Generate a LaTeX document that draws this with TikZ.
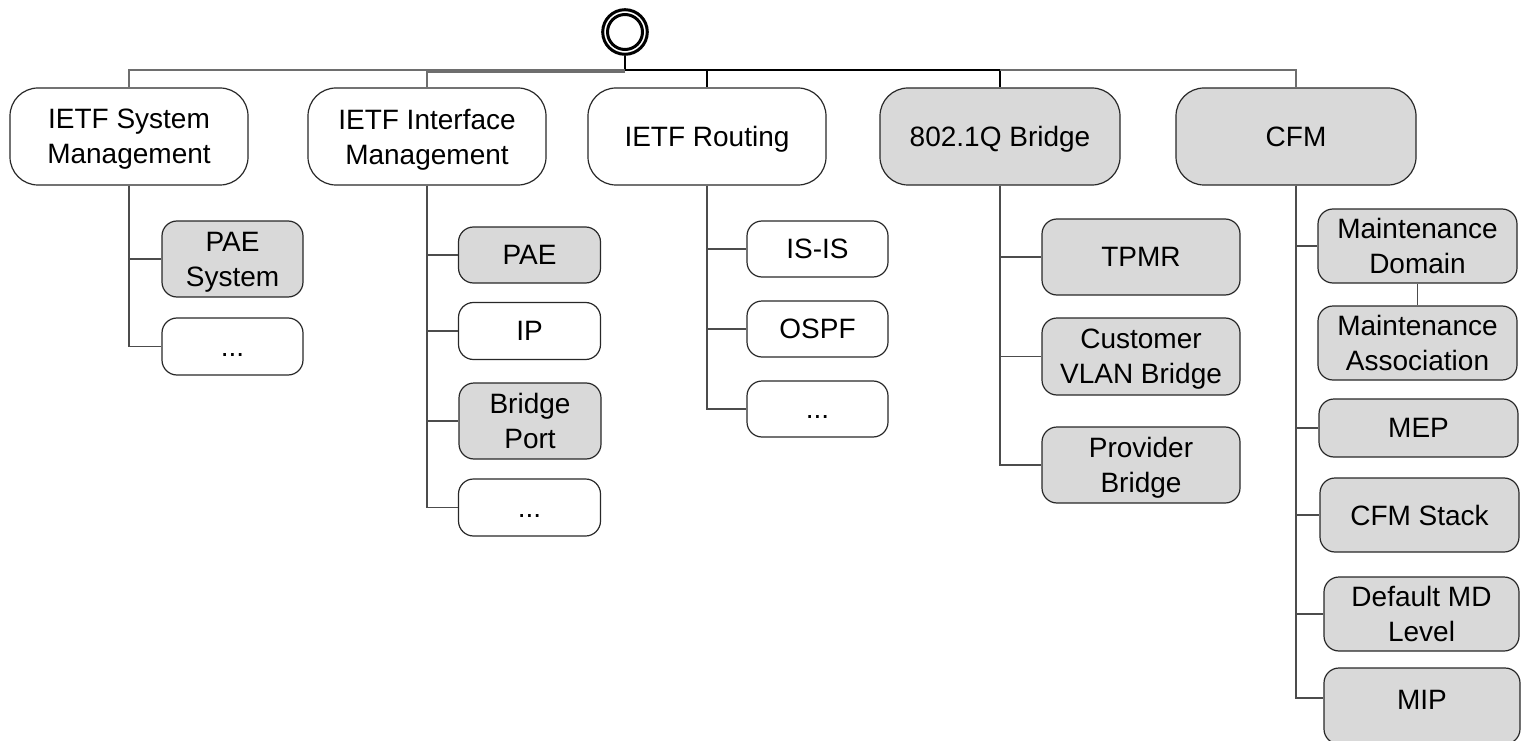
\documentclass[tikz,border=0pt]{standalone}
\usepackage{fontspec}
\setmainfont{Liberation Sans}
\newcommand\boxfont{\fontsize{28}{35}\selectfont}
\newcommand\more{\vphantom{A}...}
\definecolor{boxgray}{RGB}{217,217,217}
\definecolor{edge}{RGB}{40,40,40}
\definecolor{wiregray}{RGB}{110,110,110}
\tikzset{
  topbox/.style={draw=edge, line width=1.2pt, rounded corners=28pt,
    minimum width=238pt, minimum height=97pt, align=center, font=\boxfont,
    inner sep=0pt, text depth=0pt},
  subbox/.style={draw=edge, line width=1.2pt, rounded corners=15pt,
    minimum width=142pt, minimum height=57pt, align=center, font=\boxfont,
    inner sep=0pt, text depth=0pt},
  shaded/.style={fill=boxgray},
  plain/.style={fill=white},
  wire/.style={draw=black, line width=1.3pt},
  softwire/.style={draw=wiregray, line width=1.6pt},
  twig/.style={draw=black!70, line width=1.2pt},
}
\begin{document}
\begin{tikzpicture}[x=1pt, y=-1pt]
\useasboundingbox (0,0) rectangle (1521,741);
\clip (0,0) rectangle (1521,741);

% root marker
\node[circle, draw=black, line width=3pt, minimum size=44.6pt, inner sep=0pt] (root) at (625,32) {};
\draw[line width=3pt] (root.center) circle (17.5pt);
\coordinate (hub) at (625,70);

% top level modules
\node[topbox, plain]  (sys) at (129,136.5)  {IETF System\\Management};
\node[topbox, plain]  (ifm) at (427,136.5)  {IETF Interface\\Management};
\node[topbox, plain]  (rt)  at (707,136.5)  {IETF Routing};
\node[topbox, shaded, minimum width=240pt] (brg) at (1000,136.5) {802.1Q Bridge};
\node[topbox, shaded, minimum width=240pt] (cfm) at (1296,136.5) {CFM};

% bus from the root
\draw[wire] (root.south) -- (hub);
\draw[softwire] (hub) -| (sys.north);
\draw[softwire] ([yshift=-2pt]hub) -| (ifm.north);
\draw[wire] (hub) -| (rt.north);
\draw[wire, line width=1.8pt] (hub) -| (brg.north);
\draw[softwire] (brg.north |- hub) -| (cfm.north);

% IETF System Management
\node[subbox, shaded, minimum width=141pt, minimum height=76pt] (paesys) at (232.5,259) {PAE\\System};
\node[subbox, plain,  minimum width=141pt] (sysmore) at (232.5,346.5) {\more};

% IETF Interface Management
\node[subbox, shaded, minimum height=56pt] (pae)    at (529.5,255) {PAE};
\node[subbox, plain]                       (ip)     at (529.5,331) {IP};
\node[subbox, shaded, minimum height=76pt] (bport)  at (530,421)   {Bridge\\Port};
\node[subbox, plain]                       (ifmore) at (529.5,507.5) {\more};

% IETF Routing
\node[subbox, plain, minimum width=141pt, minimum height=56pt] (isis)   at (817.5,249) {IS-IS};
\node[subbox, plain, minimum width=141pt, minimum height=56pt] (ospf)   at (817.5,329) {OSPF};
\node[subbox, plain, minimum width=141pt, minimum height=56pt] (rtmore) at (817.5,409) {\more};

% 802.1Q Bridge
\node[subbox, shaded, minimum width=198pt, minimum height=76pt] (tpmr) at (1141,257)   {TPMR};
\node[subbox, shaded, minimum width=198pt, minimum height=77pt] (cvlan) at (1141,356.5) {Customer\\VLAN Bridge};
\node[subbox, shaded, minimum width=198pt, minimum height=76pt] (pbr)  at (1141,465)   {Provider\\Bridge};

% CFM
\node[subbox, shaded, minimum width=199pt, minimum height=74pt] (md)    at (1417.5,246) {Maintenance\\Domain};
\node[subbox, shaded, minimum width=199pt, minimum height=74pt] (ma)    at (1417.5,343) {Maintenance\\Association};
\node[subbox, shaded, minimum width=199pt, minimum height=58pt] (mep)   at (1418.5,428) {MEP};
\node[subbox, shaded, minimum width=199pt, minimum height=74pt] (stack) at (1419.5,515) {CFM Stack};
\node[subbox, shaded, minimum width=195pt, minimum height=74pt] (mdl)   at (1421.5,614) {Default MD\\Level};
\node[subbox, shaded, minimum width=196pt, minimum height=76pt] (mip)   at (1422,706)   {\raisebox{12pt}{MIP}};

% branches
\foreach \kid in {paesys, sysmore}
  \draw[twig] (sys.south) |- (\kid.west);
\foreach \kid in {pae, ip, bport, ifmore}
  \draw[twig] (ifm.south) |- (\kid.west);
\foreach \kid in {isis, ospf, rtmore}
  \draw[twig] (rt.south) |- (\kid.west);
\foreach \kid in {tpmr, cvlan, pbr}
  \draw[twig] (brg.south) |- (\kid.west);
\foreach \kid in {md, mep, stack, mdl}
  \draw[twig] (cfm.south) |- (\kid.west);
\draw[twig] (cfm.south) |- ([yshift=8pt]mip.west);
\draw[twig] (md.south) -- (ma.north);
\end{tikzpicture}
\end{document}
